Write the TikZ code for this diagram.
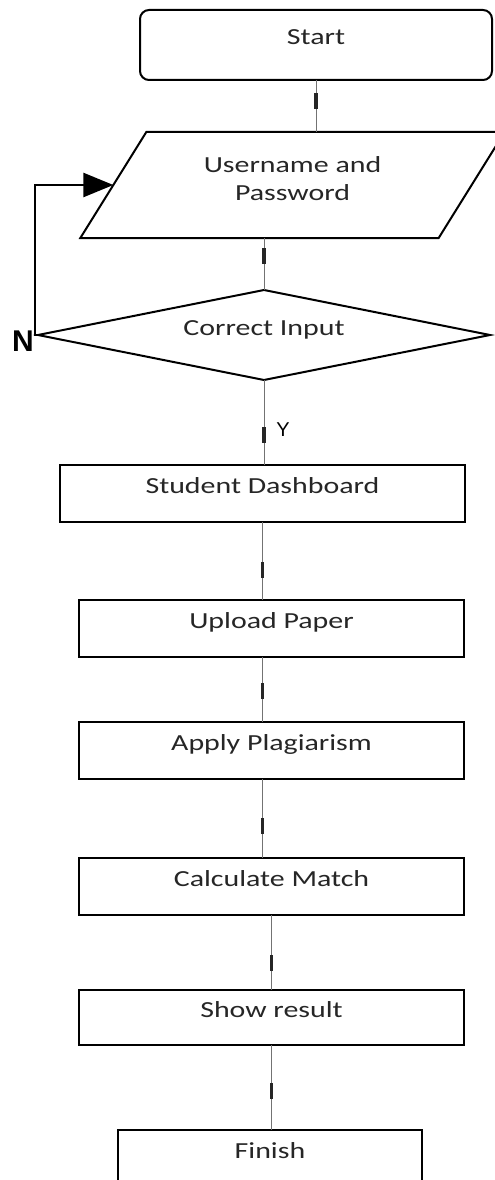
\documentclass[tikz,border=0pt]{standalone}
\usepackage{fontspec}
\setmainfont[FakeStretch=1.3]{Carlito}
\newfontfamily\arialfont{Liberation Sans}
\usetikzlibrary{shapes.geometric,arrows.meta,decorations.markings}
\begin{document}
\begin{tikzpicture}[x=1pt,y=-1pt,
  fbox/.style={draw,line width=2pt,inner sep=0pt,outer sep=0pt,fill=white,
    font=\fontsize{23}{27.5}\selectfont,text=black!85},
  mid/.style={text height=16pt,text depth=16pt},
  flow/.style={draw=black!55,line width=0.6pt,postaction={decorate},
    decoration={markings,mark=at position #1 with
      {\fill[black!85] (-8pt,-1.7pt) rectangle (8pt,1.7pt);}}},
  back/.style={line width=2.5pt,-{Triangle[length=30pt,width=24pt]}}]
  \useasboundingbox (0,0) rectangle (495,1180);
  \clip (0,0) rectangle (495,1180);
  \fill[white] (0,0) rectangle (495,1180);
  % boxes
  \node[fbox,mid,rounded corners=9pt,minimum width=352,minimum height=70] (start) at (316,45) {Start};
  \node[fbox,trapezium,trapezium left angle=51.3,trapezium right angle=128.7,
    trapezium stretches=true,minimum width=425,minimum height=106,align=center,
    text height=40pt,text depth=10pt] (user) at (292.5,185) {Username and\\Password};
  \node[fbox,mid,diamond,shape aspect=5,minimum width=452,minimum height=90] (dec) at (264,335) {Correct Input};
  \node[fbox,mid,minimum width=405,minimum height=57] (dash) at (262.5,493.5) {Student Dashboard};
  \node[fbox,mid,minimum width=385,minimum height=57] (upload) at (271.5,628.5) {Upload Paper};
  \node[fbox,mid,minimum width=385,minimum height=57] (apply) at (271.5,750.5) {Apply Plagiarism};
  \node[fbox,mid,minimum width=385,minimum height=57] (calc) at (271.5,886.5) {Calculate Match};
  \node[fbox,mid,minimum width=385,minimum height=55] (show) at (271.5,1017.5) {Show result};
  \node[fbox,mid,minimum width=304,minimum height=57] (finish) at (270,1158.5) {Finish};
  % labels
  \node[font=\arialfont\bfseries\fontsize{30}{30}\selectfont] (nlab) at (23,341) {N};
  \node[font=\arialfont\fontsize{20}{20}\selectfont] (ylab) at (283,430) {Y};
  % connectors
  \draw[flow=0.4] (start.south) -- (start.south |- user.north);
  \draw[flow=0.35] (dec.north |- user.south) -- (dec.north);
  \draw[flow=0.65] (dec.south) -- (dec.south |- dash.north);
  \draw[flow=0.62] (dash.south) -- (dash.south |- upload.north);
  \draw[flow=0.52] (upload.south -| dash.south) -- (apply.north -| dash.south);
  \draw[flow=0.6] (apply.south -| dash.south) -- (calc.north -| dash.south);
  \draw[flow=0.64] (calc.south) -- (show.north);
  \draw[flow=0.54] (show.south) -- (show.south |- finish.north);
  \draw[back] (dec.west) -- ++(-3,0) |- (user.west);
\end{tikzpicture}
\end{document}
